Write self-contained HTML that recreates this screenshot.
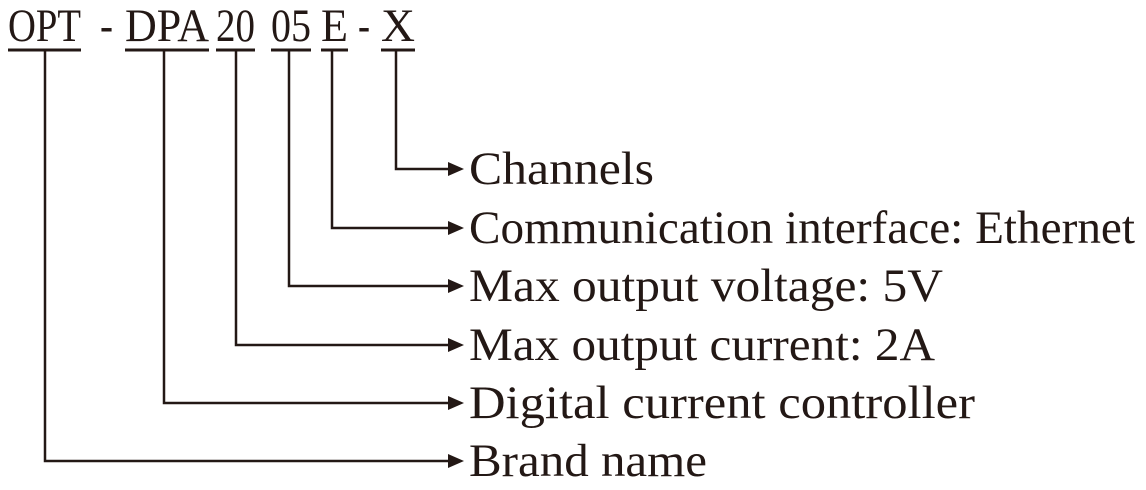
<!DOCTYPE html>
<html><head><meta charset="utf-8"><style>html,body{margin:0;padding:0;background:#fff}</style></head>
<body>
<svg width="1146" height="485" viewBox="0 0 1146 485" xmlns="http://www.w3.org/2000/svg">
<g font-family="Liberation Serif, serif" font-size="47" fill="#231815">
<text x="8" y="41" textLength="73" lengthAdjust="spacingAndGlyphs">OPT</text>
<text x="100" y="41" textLength="13" lengthAdjust="spacingAndGlyphs">-</text>
<text x="125" y="41" textLength="84" lengthAdjust="spacingAndGlyphs">DPA</text>
<text x="216" y="41" textLength="39" lengthAdjust="spacingAndGlyphs">20</text>
<text x="271" y="41" textLength="40" lengthAdjust="spacingAndGlyphs">05</text>
<text x="321" y="41" textLength="27" lengthAdjust="spacingAndGlyphs">E</text>
<text x="358" y="41" textLength="12" lengthAdjust="spacingAndGlyphs">-</text>
<text x="381" y="41" textLength="34" lengthAdjust="spacingAndGlyphs">X</text>
</g>
<g stroke="#231815" stroke-width="3">
<line x1="8" y1="50" x2="81" y2="50"/>
<line x1="125" y1="50" x2="209" y2="50"/>
<line x1="216" y1="50" x2="255" y2="50"/>
<line x1="271" y1="50" x2="311" y2="50"/>
<line x1="321" y1="50" x2="348" y2="50"/>
<line x1="381" y1="50" x2="415" y2="50"/>
</g>
<g stroke="#231815" stroke-width="2.5" fill="none">
<polyline points="396,50 396,169 452,169"/>
<polyline points="332,50 332,228 452,228"/>
<polyline points="289,50 289,286 452,286"/>
<polyline points="236,50 236,345 452,345"/>
<polyline points="164,50 164,403 452,403"/>
<polyline points="45,50 45,461 452,461"/>
</g>
<g fill="#231815">
<polygon points="448,162 464,169 448,176"/>
<polygon points="448,221 464,228 448,235"/>
<polygon points="448,279 464,286 448,293"/>
<polygon points="448,338 464,345 448,352"/>
<polygon points="448,396 464,403 448,410"/>
<polygon points="448,454 464,461 448,468"/>
</g>
<g font-family="Liberation Serif, serif" font-size="47" fill="#231815">
<text x="469" y="184" textLength="185" lengthAdjust="spacingAndGlyphs">Channels</text>
<text x="469" y="243" textLength="666" lengthAdjust="spacingAndGlyphs">Communication interface: Ethernet</text>
<text x="469" y="301" textLength="474" lengthAdjust="spacingAndGlyphs">Max output voltage: 5V</text>
<text x="469" y="360" textLength="466" lengthAdjust="spacingAndGlyphs">Max output current: 2A</text>
<text x="469" y="418" textLength="506" lengthAdjust="spacingAndGlyphs">Digital current controller</text>
<text x="469" y="476" textLength="238" lengthAdjust="spacingAndGlyphs">Brand name</text>
</g>
</svg>
</body></html>
